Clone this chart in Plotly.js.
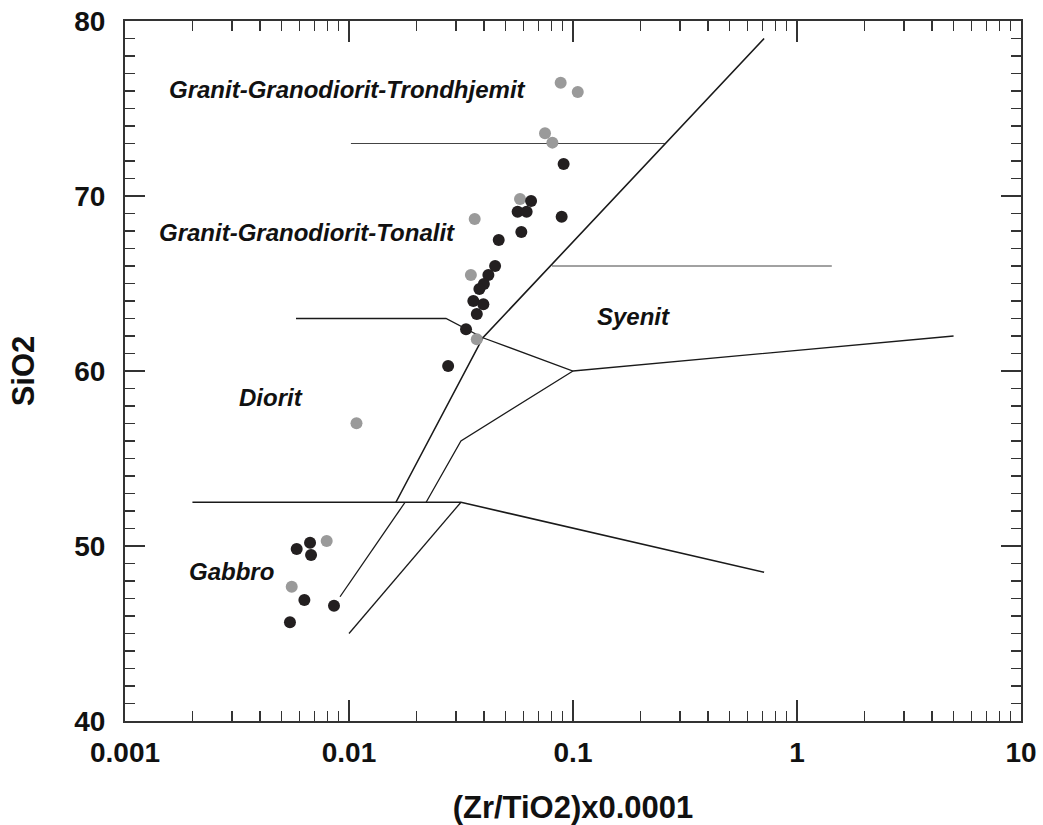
<!DOCTYPE html>
<html>
<head>
<meta charset="utf-8">
<script src="https://cdn.plot.ly/plotly-3.0.1.min.js"></script>
<style>html,body{margin:0;padding:0;background:#fff;}#chart{width:1043px;height:825px;}</style>
</head>
<body>
<div id="chart"></div>
<script>
// ---- data ----
const blackX = [0.0908, 0.0890, 0.0650, 0.0566, 0.0621, 0.0588, 0.0466, 0.0449, 0.0419, 0.0400, 0.0382, 0.0359, 0.0398, 0.0372, 0.0333, 0.0277, 0.00584, 0.00670, 0.00677, 0.00632, 0.00857, 0.00545];
const blackY = [71.83, 68.82, 69.71, 69.10, 69.10, 67.94, 67.49, 66.00, 65.49, 64.97, 64.69, 64.00, 63.81, 63.26, 62.38, 60.29, 49.83, 50.19, 49.49, 46.91, 46.59, 45.64];
const grayX = [0.0881, 0.105, 0.0750, 0.0809, 0.0580, 0.0364, 0.0350, 0.0372, 0.0108, 0.00795, 0.00555];
const grayY = [76.47, 75.94, 73.58, 73.05, 69.83, 68.69, 65.49, 61.81, 57.01, 50.29, 47.67];

// field boundaries
const line73X = [0.0102, 0.257];            const line73Y = [73, 73];
const line66X = [0.0806, 1.43];             const line66Y = [66, 66];
const diagUpperX = [0.0162, 0.0396, 0.713]; const diagUpperY = [52.5, 61.9, 79];
const diagLowerX = [0.00912, 0.0178];       const diagLowerY = [47.1, 52.5];
const line52X = [0.002, 0.0316, 0.713];     const line52Y = [52.5, 52.5, 48.5];
const baseX = [0.01, 0.0316];               const baseY = [45, 52.5];
const line63X = [0.0058, 0.0271, 0.0396, 0.1, 5.0]; const line63Y = [63, 63, 61.9, 60, 62];
const midX = [0.0221, 0.0316, 0.1];         const midY = [52.5, 56, 60];

const xTickVals = [0.001, 0.01, 0.1, 1, 10];
const xTickText = ['0.001', '0.01', '0.1', '1', '10'];
const yTickVals = [40, 50, 60, 70, 80];
const yTickText = ['40', '50', '60', '70', '80'];

const fieldNames = ['Granit-Granodiorit-Trondhjemit', 'Granit-Granodiorit-Tonalit', 'Syenit', 'Diorit', 'Gabbro'];
// ---- end data ----

const xMinor = [];
for (let d = -3; d < 1; d++) for (let k = 2; k <= 9; k++) xMinor.push(k * Math.pow(10, d));

const FONT = 'Liberation Sans, Arial, sans-serif';
function seg(x, y, w, c) {
  return {x: x, y: y, type: 'scatter', mode: 'lines', line: {color: c, width: w}, hoverinfo: 'skip', showlegend: false};
}
const traces = [
  seg(line73X, line73Y, 1, '#444'),
  seg(line66X, line66Y, 1, '#444'),
  seg(diagUpperX, diagUpperY, 1.6, '#1a1a1a'),
  seg(diagLowerX, diagLowerY, 1.3, '#1a1a1a'),
  seg(line52X, line52Y, 1.6, '#1a1a1a'),
  seg(baseX, baseY, 1.3, '#1a1a1a'),
  seg(line63X, line63Y, 1.3, '#1a1a1a'),
  seg(midX, midY, 1.3, '#1a1a1a'),
  {x: grayX, y: grayY, type: 'scatter', mode: 'markers', marker: {color: '#9a9a9a', size: 12}, showlegend: false},
  {x: blackX, y: blackY, type: 'scatter', mode: 'markers', marker: {color: '#231f20', size: 12}, showlegend: false}
];

const labelPos = [[-2.8125, 76.11], [-2.857, 67.89], [-0.902, 63.09], [-2.5, 58.46], [-2.723, 48.53]];
const annotations = fieldNames.map((t, i) => ({
  text: '<b><i>' + t + '</i></b>', x: labelPos[i][0], y: labelPos[i][1], xref: 'x', yref: 'y',
  xanchor: 'left', yanchor: 'middle', showarrow: false,
  font: {family: FONT, size: 24, color: '#111'}
}));

const layout = {
  width: 1043, height: 825,
  margin: {l: 125, r: 22, t: 21, b: 104},
  paper_bgcolor: '#fff', plot_bgcolor: '#fff',
  font: {family: FONT, color: '#111'},
  showlegend: false,
  xaxis: {
    type: 'log', range: [-3, 1], tickmode: 'array', tickvals: xTickVals, ticktext: xTickText,
    ticks: 'inside', ticklen: 21, tickwidth: 1.5, tickcolor: '#333',
    minor: {tickmode: 'array', tickvals: xMinor, ticks: 'inside', ticklen: 10, tickwidth: 1.3, tickcolor: '#333', showgrid: false},
    showline: true, linecolor: '#333', linewidth: 2, mirror: 'ticks', showgrid: false, zeroline: false,
    tickfont: {family: FONT, size: 28, color: '#111', weight: 'bold'},
    ticklabelstandoff: 5,
    title: {text: '<b>(Zr/TiO2)x0.0001</b>', font: {family: FONT, size: 31, color: '#111'}, standoff: 30}
  },
  yaxis: {
    range: [40, 80], tickmode: 'array', tickvals: yTickVals, ticktext: yTickText,
    ticks: 'inside', ticklen: 20, tickwidth: 1.5, tickcolor: '#333',
    minor: {dtick: 1, ticks: 'inside', ticklen: 10, tickwidth: 1.3, tickcolor: '#333', showgrid: false},
    showline: true, linecolor: '#333', linewidth: 2, mirror: 'ticks', showgrid: false, zeroline: false,
    tickfont: {family: FONT, size: 28, color: '#111', weight: 'bold'},
    ticklabelstandoff: 12,
    title: {text: '<b>SiO2</b>', font: {family: FONT, size: 31, color: '#111'}, standoff: 30}
  },
  annotations: annotations
};

Plotly.newPlot('chart', traces, layout, {displayModeBar: false, staticPlot: true});
</script>
</body>
</html>
